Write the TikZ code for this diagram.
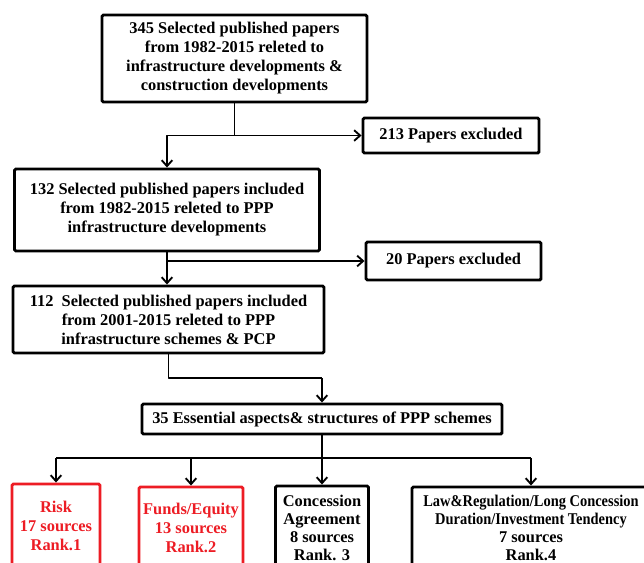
\documentclass[tikz,border=0pt]{standalone}
\usepackage{fontspec}
\setmainfont{Liberation Serif}
\newfontfamily\narrowserif[FakeStretch=0.88]{Liberation Serif}
\usetikzlibrary{arrows.meta}
\definecolor{rankred}{RGB}{237,28,36}
\tikzset{
  box/.style n args={2}{draw=black, line width=2.2pt, rounded corners=1pt,
    rectangle, inner sep=0pt, align=center,
    minimum width=#1*0.75pt, minimum height=#2*0.75pt,
    font=\fontsize{12.3}{14.25}\selectfont\bfseries},
  tight/.style={font=\fontsize{12.3}{13.6}\selectfont\bfseries},
  redbox/.style={draw=rankred, text=rankred},
  link/.style={line width=1.4pt, line join=round},
  arr/.style={link, -{Straight Barb[length=4.5pt,width=8pt,line width=1.4pt]}}
}
\begin{document}
\begin{tikzpicture}[x=0.75pt,y=-0.75pt]
\useasboundingbox (0,0) rectangle (644,562);
\fill[white] (0,0) rectangle (644,562);
\clip (0,0) rectangle (644,562);

% screening stages
\node[box={265}{87}] (b1) at (234.5,58.5)
  {345 Selected published papers\\from 1982-2015 releted to\\infrastructure developments \&\\construction developments};
\node[box={176}{35}] (ex1) at (451,135.5) {213 Papers excluded};
\node[box={305}{82}] (b2) at (167,210)
  {132 Selected published papers included\\from 1982-2015 releted to PPP\\infrastructure developments};
\node[box={175}{38}] (ex2) at (453.5,261) {20 Papers excluded};
\node[box={311}{67}] (b3) at (168.5,319.5)
  {112\ \ Selected published papers included\\from 2001-2015 releted to PPP\\infrastructure schemes \& PCP};
\node[box={360}{30}] (b4) at (322,419) {35 Essential aspects\& structures of PPP schemes};

% ranked aspects (their lower edges run off the page)
\node[box={88}{84}, redbox] (r1) at (56,526) {Risk\\17 sources\\Rank.1};
\node[box={104}{82}, redbox] (r2) at (191,528) {Funds/Equity\\13 sources\\Rank.2};
\node[box={93}{84}, tight] (r3) at (322,528) {Concession\\Agreement\\8 sources\\Rank. 3};
\node[box={238}{82}, tight] (r4) at (531,528)
  {\narrowserif\bfseries Law\&Regulation/Long Concession\\\narrowserif\bfseries Duration/Investment Tendency\\7 sources\\Rank.4};

% connectors
\coordinate (j1) at (234.5,135.5);
\draw[link] (b1.south) -- (j1);
\draw[arr] (j1) -- (ex1.west);
\draw[arr] (j1) -| (b2.north);

\coordinate (j2) at (167,261);
\draw[arr] (b2.south) -- (b2.south |- b3.north);
\draw[arr] (j2) -- (ex2.west);

\coordinate (j3) at (322,378);
\draw[link] (b3.south) |- (j3);
\draw[arr] (j3) -- (b4.north);

\coordinate (j4) at (322,458);
\draw[link] (b4.south) -- (j4);
\draw[link] (r1.north |- j4) -- (r4.north |- j4);
\draw[arr] (r1.north |- j4) -- (r1.north);
\draw[arr] (r2.north |- j4) -- (r2.north);
\draw[arr] (j4) -- (r3.north);
\draw[arr] (r4.north |- j4) -- (r4.north);
\end{tikzpicture}
\end{document}
